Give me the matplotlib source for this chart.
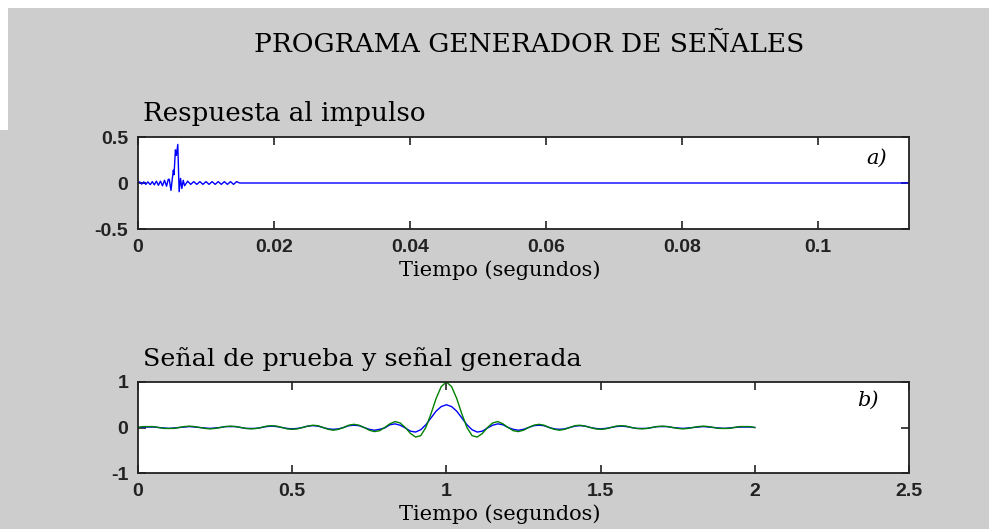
import numpy as np
import matplotlib
matplotlib.use("Agg")
import matplotlib.pyplot as plt
from matplotlib.patches import Rectangle
from matplotlib.font_manager import FontProperties


# Respuesta al impulso: vertices (ms, amplitud)
imp_t_ms = [0.0, 0.25, 0.55, 0.85, 1.15, 1.45, 1.8, 2.1, 2.4, 2.7, 3.0, 3.3,
            3.6, 3.9, 4.2, 4.45, 4.6, 4.85, 5.05, 5.2, 5.3, 5.5, 5.65, 5.85,
            6.05, 6.25, 6.45, 6.65, 6.85, 7.3, 7.75, 8.2, 8.65, 9.1, 9.55,
            10.0, 10.45, 10.9, 11.35, 11.8, 12.25, 12.7, 13.15, 13.6, 14.05,
            14.5, 14.95, 15.1, 113.4]
imp_val = [0.0, 0.012, -0.012, 0.012, -0.015, 0.012, -0.018, 0.015, -0.02,
           0.02, -0.025, 0.02, -0.03, 0.03, -0.035, 0.04, 0.04, -0.08, 0.05,
           0.14, 0.09, 0.36, 0.30, 0.42, -0.095, 0.05, -0.06, 0.03, -0.03,
           0.02, -0.015, 0.015, -0.015, 0.015, -0.015, 0.015, -0.015, 0.015,
           -0.015, 0.015, -0.015, 0.015, -0.015, 0.015, -0.015, 0.015, 0.0,
           0.0, 0.0]

# Señal de prueba (verde) y señal generada (azul), muestreadas cada 1/60 s
t_sig = np.linspace(0, 2, 121)
prueba = [0, 0.02, 0.02, 0.02, 0, -0.02, -0.02, -0.02, 0, 0.02, 0.03, 0.02,
          0, -0.02, -0.03, -0.02, 0, 0.02, 0.03, 0.02, 0, -0.02, -0.03, -0.02,
          0, 0.03, 0.04, 0.03, 0, -0.03, -0.04, -0.03, 0, 0.03, 0.05, 0.04,
          0, -0.04, -0.06, -0.04, 0, 0.05, 0.07, 0.05, 0, -0.06, -0.09, -0.07,
          0, 0.08, 0.13, 0.10, 0, -0.13, -0.21, -0.18, 0, 0.30, 0.64, 0.90,
          1.0,
          0.90, 0.64, 0.30, 0, -0.18, -0.21, -0.13, 0, 0.10, 0.13, 0.08,
          0, -0.07, -0.09, -0.06, 0, 0.05, 0.07, 0.05, 0, -0.04, -0.06, -0.04,
          0, 0.04, 0.05, 0.03, 0, -0.03, -0.04, -0.03, 0, 0.03, 0.04, 0.03,
          0, -0.02, -0.03, -0.02, 0, 0.02, 0.03, 0.02, 0, -0.02, -0.03, -0.02,
          0, 0.02, 0.03, 0.02, 0, -0.02, -0.02, -0.02, 0, 0.02, 0.02, 0.02, 0]
generada = [0, 0.01, 0.01, 0.01, 0, -0.01, -0.02, -0.01, 0, 0.01, 0.02, 0.01,
            0, -0.01, -0.02, -0.01, 0, 0.02, 0.02, 0.02, 0, -0.02, -0.02, -0.02,
            0, 0.02, 0.03, 0.02, 0, -0.02, -0.03, -0.02, 0, 0.03, 0.04, 0.03,
            0, -0.03, -0.04, -0.03, 0, 0.04, 0.05, 0.04, 0, -0.04, -0.06, -0.04,
            -0.01, 0.06, 0.08, 0.05, -0.01, -0.08, -0.10, -0.05, 0.06, 0.21, 0.36, 0.46,
            0.50,
            0.46, 0.36, 0.21, 0.06, -0.05, -0.10, -0.08, -0.01, 0.05, 0.08, 0.06,
            0, -0.04, -0.06, -0.04, 0, 0.04, 0.05, 0.04, 0, -0.03, -0.04, -0.03,
            0, 0.03, 0.04, 0.03, 0, -0.02, -0.03, -0.02, 0, 0.02, 0.03, 0.02,
            0, -0.02, -0.02, -0.02, 0, 0.02, 0.02, 0.02, 0, -0.01, -0.02, -0.01,
            0, 0.01, 0.02, 0.01, 0, -0.01, -0.02, -0.01, 0, 0.01, 0.01, 0.01, 0]

xt_top = [0, 0.02, 0.04, 0.06, 0.08, 0.1]
xt_top_lbl = ["0", "0.02", "0.04", "0.06", "0.08", "0.1"]
yt_top = [-0.5, 0, 0.5]
yt_top_lbl = ["-0.5", "0", "0.5"]
xt_bot = [0, 0.5, 1, 1.5, 2, 2.5]
xt_bot_lbl = ["0", "0.5", "1", "1.5", "2", "2.5"]
yt_bot = [-1, 0, 1]
yt_bot_lbl = ["-1", "0", "1"]

W, H = 989, 529
fig = plt.figure(figsize=(W / 100, H / 100), dpi=100)
fig.patch.set_facecolor("#cdcdcd")
# franjas blancas del borde
fig.patches.append(Rectangle((0, 1 - 8 / H), 1, 8 / H, transform=fig.transFigure,
                             facecolor="white", edgecolor="none", zorder=0))
fig.patches.append(Rectangle((0, 1 - 130 / H), 8 / W, 130 / H, transform=fig.transFigure,
                             facecolor="white", edgecolor="none", zorder=0))

serif = "DejaVu Serif"
tickfont = FontProperties(family="Liberation Sans", weight="bold", size=14)


def px_axes(x0, y0, x1, y1):
    return fig.add_axes([x0 / W, 1 - y1 / H, (x1 - x0) / W, (y1 - y0) / H])


def style(ax):
    for s in ax.spines.values():
        s.set_linewidth(1.3)
        s.set_color("#222222")
    ax.tick_params(direction="in", length=6, width=1.2, top=True, right=True,
                   pad=7, colors="#222222")
    for lbl in ax.get_xticklabels() + ax.get_yticklabels():
        lbl.set_fontproperties(tickfont)


# a) respuesta al impulso
ax1 = px_axes(138, 137, 909, 229)
ax1.plot(np.array(imp_t_ms) / 1000.0, imp_val, color="#0000ff", lw=1.0)
ax1.set_xlim(0, 0.11338)
ax1.set_ylim(-0.5, 0.5)
ax1.set_xticks(xt_top, xt_top_lbl)
ax1.set_yticks(yt_top, yt_top_lbl)
style(ax1)
ax1.text(0.958, 0.77, "a)", transform=ax1.transAxes, family=serif,
         style="italic", size=15, ha="center", va="center")

# b) señal de prueba y señal generada
ax2 = px_axes(138, 382, 909, 473)
ax2.plot(t_sig, generada, color="#0000ff", lw=1.0)
ax2.plot(t_sig, prueba, color="#008000", lw=1.0)
ax2.set_xlim(0, 2.5)
ax2.set_ylim(-1, 1)
ax2.set_xticks(xt_bot, xt_bot_lbl)
ax2.set_yticks(yt_bot, yt_bot_lbl)
style(ax2)
ax2.text(0.946, 0.80, "b)", transform=ax2.transAxes, family=serif,
         style="italic", size=15, ha="center", va="center")

fig.text(529 / W, 1 - 45 / H, "PROGRAMA GENERADOR DE SEÑALES", family=serif,
         size=19, ha="center", va="center")
fig.text(143 / W, 1 - 121 / H, "Respuesta al impulso", family=serif,
         size=18.8, ha="left", va="baseline")
fig.text(143 / W, 1 - 366 / H, "Señal de prueba y señal generada", family=serif,
         size=18.3, ha="left", va="baseline")
fig.text(500 / W, 1 - 276 / H, "Tiempo (segundos)", family=serif,
         size=15, ha="center", va="baseline")
fig.text(500 / W, 1 - 520 / H, "Tiempo (segundos)", family=serif,
         size=15, ha="center", va="baseline")

fig.savefig("out.png", dpi=100, facecolor=fig.get_facecolor())
